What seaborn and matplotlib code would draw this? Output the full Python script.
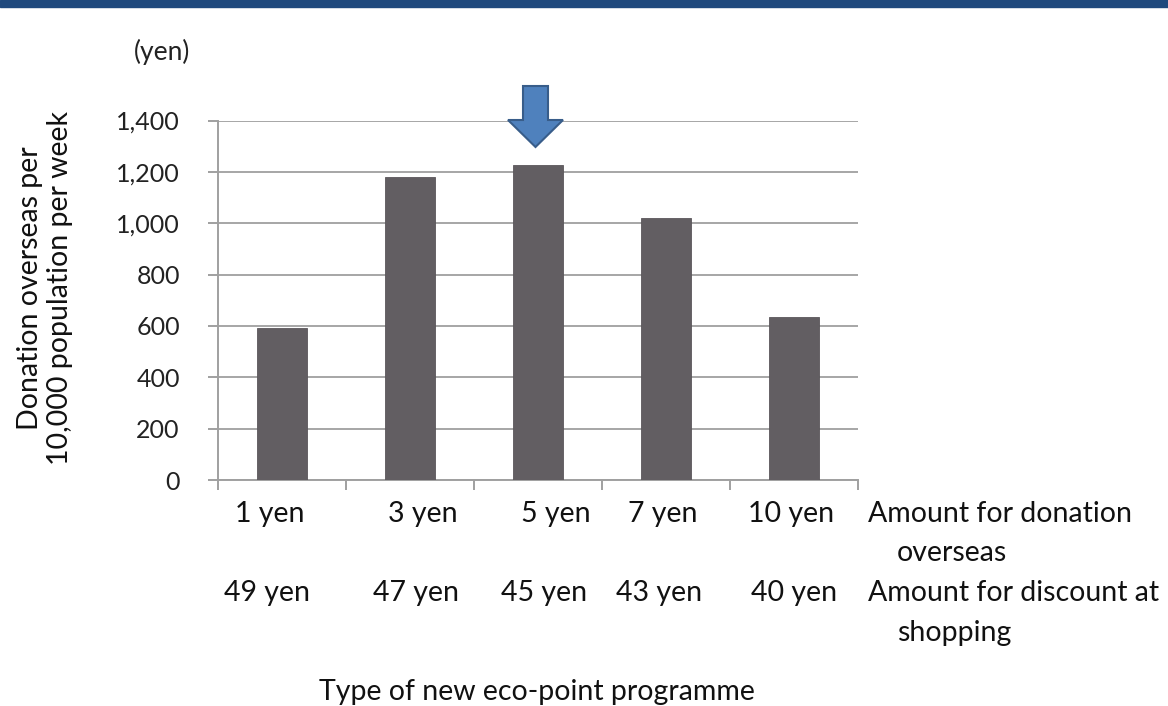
import matplotlib
matplotlib.use("Agg")
import matplotlib.pyplot as plt
from matplotlib.patches import FancyArrow, Rectangle
import seaborn as sns
import pandas as pd

# Donation share of the eco-point, discount share, and weekly donations
donation_amounts = ["1 yen", "3 yen", "5 yen", "7 yen", "10 yen"]
discount_amounts = ["49 yen", "47 yen", "45 yen", "43 yen", "40 yen"]
donations = [590, 1180, 1225, 1020, 635]
y_ticks = [0, 200, 400, 600, 800, 1000, 1200, 1400]

df = pd.DataFrame({"programme": donation_amounts, "donation": donations})

sns.set_theme(style="white")
plt.rcParams["font.family"] = ["Lato", "DejaVu Sans"]

W, H = 1168, 706
fig = plt.figure(figsize=(W / 100, H / 100), dpi=100)

def fx(px):
    return px / W

def fy(py):
    return 1 - py / H

ax = fig.add_axes([fx(218), fy(480), fx(858) - fx(218), fy(120.5) - fy(480)])

sns.barplot(data=df, x="programme", y="donation", ax=ax, color="#625E62",
            saturation=1, width=0.39, edgecolor="#5A565A", linewidth=0.6, zorder=3)

ax.set_xlim(-0.5, 4.5)
ax.set_ylim(0, 1400)
ax.set_yticks(y_ticks)
ax.set_yticklabels([f"{v:,}" for v in y_ticks], fontsize=18, color="#222222")
ax.yaxis.grid(True, color="#A6A6A6", linewidth=1.4, zorder=0)
ax.xaxis.grid(False)
ax.set_xticks([i - 0.5 for i in range(len(donation_amounts) + 1)])
ax.set_xticklabels([])
ax.set_xlabel("")
ax.set_ylabel("")
ax.tick_params(axis="both", which="major", length=7.5, width=1.4, color="#A0A0A0",
               direction="out", bottom=True, left=True)
ax.tick_params(axis="y", pad=20)
for side in ["top", "right"]:
    ax.spines[side].set_visible(False)
for side in ["left", "bottom"]:
    ax.spines[side].set_color("#A0A0A0")
    ax.spines[side].set_linewidth(1.4)

# Header band
fig.add_artist(Rectangle((0, fy(7)), 1, fy(0) - fy(7), transform=fig.transFigure,
                         color="#1F497D", zorder=10))

TXT = 20.5
INK = "#111111"

# Category labels under each bar (two rows)
row1_px = [270, 423, 556, 663, 791]
row2_px = [267, 416, 544, 659, 794]
for lab, px in zip(donation_amounts, row1_px):
    fig.text(fx(px), fy(514), lab, ha="center", va="center", fontsize=TXT, color=INK)
for lab, px in zip(discount_amounts, row2_px):
    fig.text(fx(px), fy(593), lab, ha="center", va="center", fontsize=TXT, color=INK)

fig.text(fx(868), fy(514), "Amount for donation", ha="left", va="center", fontsize=TXT, color=INK)
fig.text(fx(897), fy(553), "overseas", ha="left", va="center", fontsize=TXT, color=INK)
fig.text(fx(868), fy(593), "Amount for discount at", ha="left", va="center", fontsize=TXT, color=INK)
fig.text(fx(897), fy(633), "shopping", ha="left", va="center", fontsize=TXT, color=INK)

fig.text(fx(537), fy(692), "Type of new eco-point programme", ha="center", va="center",
         fontsize=TXT, color=INK)
fig.text(fx(162), fy(52), "(yen)", ha="center", va="center", fontsize=19, color="#222222")
fig.text(fx(45), fy(288), "Donation overseas per\n10,000 population per week", ha="center",
         va="center", rotation=90, fontsize=TXT, color=INK, linespacing=1.2)

# Arrow pointing at the 5-yen programme
arrow = FancyArrow(fx(535.5), fy(86), 0, fy(147) - fy(86), width=25 / W,
                   head_width=55 / W, head_length=(fy(120) - fy(147)),
                   length_includes_head=True, transform=fig.transFigure,
                   facecolor="#4F81BD", edgecolor="#385D8A", linewidth=1.5, zorder=11)
fig.add_artist(arrow)

fig.savefig("out.png", dpi=100)
